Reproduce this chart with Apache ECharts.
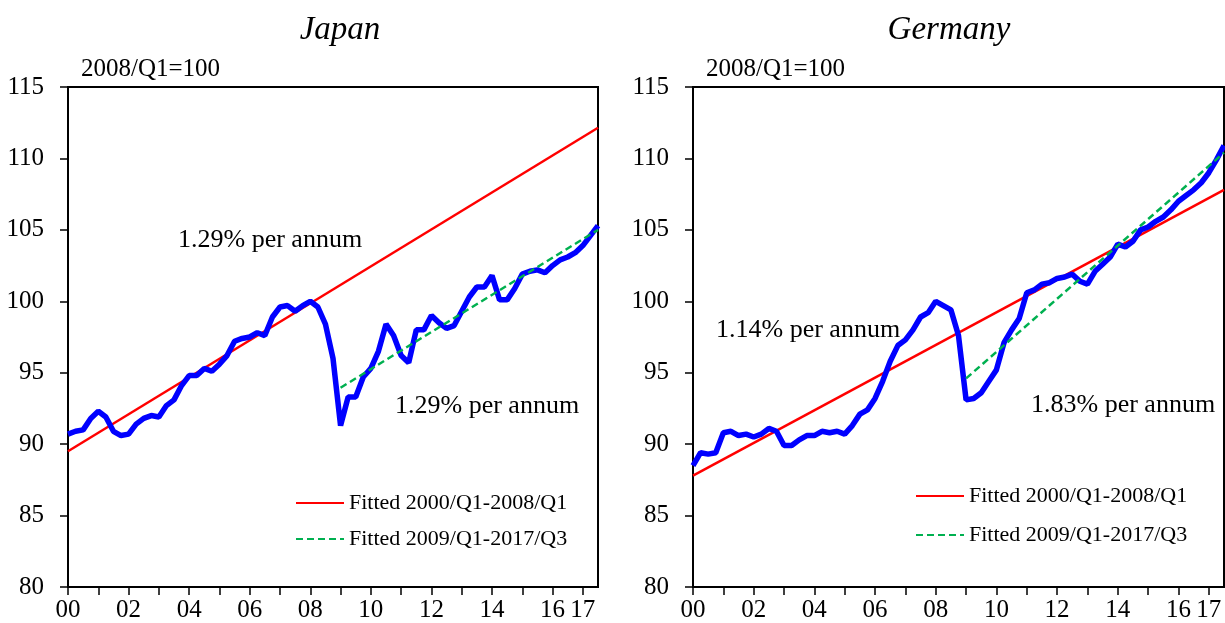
<!DOCTYPE html>
<html>
<head>
<meta charset="utf-8">
<script src="https://cdn.jsdelivr.net/npm/echarts@6/dist/echarts.min.js"></script>
<style>
html,body{margin:0;padding:0;background:#fff;}
#chart{width:1225px;height:623px;}
</style>
</head>
<body>
<div id="chart"></div>
<script>
// Quarterly series 2000/Q1 .. 2017/Q3 (2008/Q1 = 100)
var japanValues = [
  90.7, 90.9, 91.0, 91.8,   92.3, 91.9, 90.9, 90.6,   90.7, 91.4, 91.8, 92.0,
  91.9, 92.7, 93.1, 94.1,   94.8, 94.8, 95.3, 95.1,   95.6, 96.2, 97.2, 97.4,
  97.5, 97.8, 97.6, 98.9,   99.6, 99.7, 99.3, 99.7,   100.0, 99.6, 98.4, 96.0,
  91.3, 93.3, 93.3, 94.7,   95.3, 96.5, 98.4, 97.6,   96.2, 95.7, 98.0, 98.0,
  99.0, 98.5, 98.1, 98.3,   99.3, 100.3, 101.0, 101.0, 101.8, 100.1, 100.1, 100.9,
  101.9, 102.1, 102.2, 102.0, 102.5, 102.9, 103.1, 103.4, 103.9, 104.6, 105.3
];
var germanyValues = [
  88.5, 89.4, 89.3, 89.4,   90.8, 90.9, 90.6, 90.7,   90.5, 90.7, 91.1, 90.9,
  89.9, 89.9, 90.3, 90.6,   90.6, 90.9, 90.8, 90.9,   90.7, 91.3, 92.1, 92.4,
  93.2, 94.4, 95.8, 96.9,   97.3, 98.0, 98.9, 99.2,   100.0, 99.7, 99.4, 97.6,
  93.1, 93.2, 93.6, 94.4,   95.2, 97.1, 98.0, 98.8,   100.6, 100.8, 101.2, 101.3,
  101.6, 101.7, 101.9, 101.4, 101.2, 102.1, 102.6, 103.1, 104.0, 103.8, 104.2, 105.0,
  105.2, 105.6, 105.9, 106.4, 107.0, 107.4, 107.8, 108.3, 109.0, 109.9, 110.9
];
// Fitted trend lines (endpoints)
var japanFit1 = [[2000, 89.5], [2017.5, 112.15]];
var japanFit2 = [[2009, 93.95], [2017.5, 105.0]];
var germanyFit1 = [[2000, 87.8], [2017.5, 107.8]];
var germanyFit2 = [[2009, 94.6], [2017.5, 110.4]];

var startYear = 2000;
var xTickValues = [2000,2001,2002,2003,2004,2005,2006,2007,2008,2009,2010,2011,2012,2013,2014,2015,2016,2017];
var xLabelValues = [2000,2002,2004,2006,2008,2010,2012,2014,2016,2017];
var fit1Name = 'Fitted 2000/Q1-2008/Q1';
var fit2Name = 'Fitted 2009/Q1-2017/Q3';
var baseLabel = '2008/Q1=100';
var titles = ['Japan', 'Germany'];
var annotations = [
  ['1.29% per annum', '1.29% per annum'],
  ['1.14% per annum', '1.83% per annum']
];

function toPairs(vals) {
  return vals.map(function (v, i) { return [startYear + i * 0.25, v]; });
}

var FONT = '"Liberation Serif", "Times New Roman", serif';

function xAxis(gi) {
  return {
    type: 'value', gridIndex: gi, min: 2000, max: 2017.5,
    splitLine: { show: false },
    axisLine: { show: true, lineStyle: { color: '#000', width: 2 } },
    axisTick: { show: true, length: 8, inside: false, customValues: xTickValues, lineStyle: { color: '#000', width: 1.5 } },
    axisLabel: {
      customValues: xLabelValues, margin: 11, color: '#000', fontFamily: FONT, fontSize: 25,
      formatter: function (v) { return String(Math.round(v) % 100).padStart(2, '0'); }
    }
  };
}
function yAxis(gi) {
  return {
    type: 'value', gridIndex: gi, min: 80, max: 115, interval: 5,
    splitLine: { show: false },
    axisLine: { show: true, lineStyle: { color: '#000', width: 2 } },
    axisTick: { show: true, length: 8, inside: false, lineStyle: { color: '#000', width: 1.5 } },
    axisLabel: { margin: 24, color: '#000', fontFamily: FONT, fontSize: 25 }
  };
}
function mainSeries(gi, vals) {
  return { type: 'line', name: titles[gi], xAxisIndex: gi, yAxisIndex: gi, data: toPairs(vals),
    symbol: 'none', lineStyle: { color: '#0000FF', width: 5.5 }, z: 3 };
}
function fitSeries(gi, data, name, color, dashed) {
  return { type: 'line', name: name, xAxisIndex: gi, yAxisIndex: gi, data: data,
    symbol: 'none', color: color,
    lineStyle: { color: color, width: 2.5, type: dashed ? [7, 4] : 'solid' }, z: dashed ? 4 : 2 };
}

function legend(left, top, gap) {
  return { data: [fit1Name, fit2Name], orient: 'vertical', left: left, top: top, itemWidth: 48, itemHeight: 14,
    itemGap: gap, padding: 0, selectedMode: false,
    itemStyle: { opacity: 0, color: 'rgba(0,0,0,0)', borderWidth: 0 },
    textStyle: { fontFamily: FONT, fontSize: 22, color: '#000', padding: [0, 0, 0, 0] } };
}

var chart = echarts.init(document.getElementById('chart'), null, { renderer: 'canvas' });
var option = {
  animation: false,
  backgroundColor: '#fff',
  textStyle: { fontFamily: FONT, color: '#000' },
  title: [
    { text: titles[0], left: 335, top: 9, textAlign: 'center',
      textStyle: { fontFamily: FONT, fontStyle: 'italic', fontWeight: 'normal', fontSize: 33, color: '#000' } },
    { text: titles[1], left: 944, top: 9, textAlign: 'center',
      textStyle: { fontFamily: FONT, fontStyle: 'italic', fontWeight: 'normal', fontSize: 33, color: '#000' } },
    { text: baseLabel, left: 76, top: 52,
      textStyle: { fontFamily: FONT, fontWeight: 'normal', fontSize: 25, color: '#000' } },
    { text: baseLabel, left: 701, top: 52,
      textStyle: { fontFamily: FONT, fontWeight: 'normal', fontSize: 25, color: '#000' } }
  ],
  grid: [
    { left: 68, top: 87, width: 530, height: 500, show: true, borderColor: '#000', borderWidth: 2, backgroundColor: 'transparent' },
    { left: 693, top: 87, width: 531, height: 500, show: true, borderColor: '#000', borderWidth: 2, backgroundColor: 'transparent' }
  ],
  xAxis: [xAxis(0), xAxis(1)],
  yAxis: [yAxis(0), yAxis(1)],
  legend: [legend(295, 492, 14), legend(915, 485, 17)],
  graphic: [
    { type: 'text', left: 178, top: 227, style: { text: annotations[0][0], font: '26px ' + FONT, fill: '#000' } },
    { type: 'text', left: 395, top: 393, style: { text: annotations[0][1], font: '26px ' + FONT, fill: '#000' } },
    { type: 'text', left: 716, top: 317, style: { text: annotations[1][0], font: '26px ' + FONT, fill: '#000' } },
    { type: 'text', left: 1031, top: 392, style: { text: annotations[1][1], font: '26px ' + FONT, fill: '#000' } }
  ],
  series: [
    fitSeries(0, japanFit1, fit1Name, '#FF0000', false),
    fitSeries(0, japanFit2, fit2Name, '#00B050', true),
    mainSeries(0, japanValues),
    fitSeries(1, germanyFit1, fit1Name, '#FF0000', false),
    fitSeries(1, germanyFit2, fit2Name, '#00B050', true),
    mainSeries(1, germanyValues)
  ]
};
chart.setOption(option);
</script>
</body>
</html>
